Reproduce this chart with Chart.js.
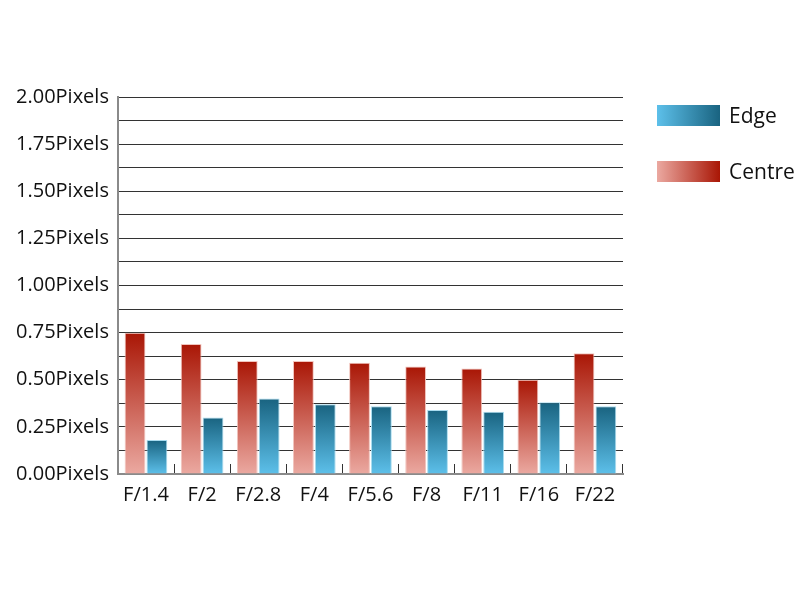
<!DOCTYPE html>
<html>
<head>
<meta charset="utf-8">
<script src="https://cdn.jsdelivr.net/npm/chart.js@4.4.1/dist/chart.umd.min.js"></script>
<style>
  html, body { margin: 0; padding: 0; background: #fff; }
  #wrap { width: 800px; height: 600px; }
</style>
</head>
<body>
<div id="wrap"><canvas id="chart" width="800" height="600"></canvas></div>
<script>
const apertures = ['F/1.4', 'F/2', 'F/2.8', 'F/4', 'F/5.6', 'F/8', 'F/11', 'F/16', 'F/22'];
const centre = [0.75, 0.69, 0.60, 0.60, 0.59, 0.57, 0.56, 0.50, 0.64];
const edge = [0.18, 0.30, 0.40, 0.37, 0.36, 0.34, 0.33, 0.38, 0.36];
const legendOrder = ['Edge', 'Centre'];

const FONT = "'Open Sans', 'Noto Sans', sans-serif";

const palette = {
  Centre: { dark: '#a91605', light: '#eba9a1', border: '#f1c4bd' },
  Edge: { dark: '#196380', light: '#5dc0ea', border: '#a9dcef' }
};

// vertical gradient per bar: dark at the top, light at the axis
function barFill(name) {
  return (ctx) => {
    const chart = ctx.chart;
    const area = chart.chartArea;
    if (!area || ctx.raw == null) return palette[name].dark;
    const top = chart.scales.y.getPixelForValue(ctx.raw);
    const g = chart.ctx.createLinearGradient(0, top, 0, area.bottom);
    g.addColorStop(0, palette[name].dark);
    g.addColorStop(1, palette[name].light);
    return g;
  };
}

// legend drawn at the right, swatches with horizontal gradients
const sideLegend = {
  id: 'sideLegend',
  afterDraw(chart) {
    const c = chart.ctx;
    c.save();
    legendOrder.forEach((name, i) => {
      const x = 657, y = 105 + i * 56, w = 63, h = 21;
      const g = c.createLinearGradient(x, 0, x + w, 0);
      g.addColorStop(0, palette[name].light);
      g.addColorStop(1, palette[name].dark);
      c.fillStyle = g;
      c.fillRect(x, y, w, h);
      c.fillStyle = '#111';
      c.font = '21px ' + FONT;
      c.textBaseline = 'middle';
      c.fillText(name, x + 72, y + h / 2 + 2);
    });
    c.restore();
  }
};

new Chart(document.getElementById('chart'), {
  type: 'bar',
  data: {
    labels: apertures,
    datasets: [
      {
        label: 'Centre',
        data: centre,
        backgroundColor: barFill('Centre'),
        borderColor: palette.Centre.border,
        borderWidth: 1,
        barPercentage: 0.95,
        categoryPercentage: 0.78
      },
      {
        label: 'Edge',
        data: edge,
        backgroundColor: barFill('Edge'),
        borderColor: palette.Edge.border,
        borderWidth: 1,
        barPercentage: 0.95,
        categoryPercentage: 0.78
      }
    ]
  },
  options: {
    responsive: false,
    animation: false,
    layout: { padding: { top: 97, right: 177, bottom: 74, left: 7 } },
    plugins: {
      legend: { display: false },
      tooltip: { enabled: false }
    },
    scales: {
      x: {
        grid: {
          offset: true,
          drawOnChartArea: false,
          drawTicks: true,
          tickLength: -10,
          color: '#333',
          lineWidth: 1
        },
        border: { color: '#8a8a8a', width: 2 },
        ticks: { color: '#111', font: { family: FONT, size: 20 }, padding: 19 }
      },
      y: {
        min: 0,
        max: 2,
        grid: { color: '#333', lineWidth: 1, drawTicks: false },
        border: { color: '#8a8a8a', width: 2 },
        ticks: {
          stepSize: 0.125,
          autoSkip: false,
          padding: 9,
          color: '#111',
          font: { family: FONT, size: 20 },
          callback: (v) => (Math.abs(v * 4 - Math.round(v * 4)) < 1e-6 ? v.toFixed(2) + 'Pixels' : '')
        }
      }
    }
  },
  plugins: [sideLegend]
});
</script>
</body>
</html>
